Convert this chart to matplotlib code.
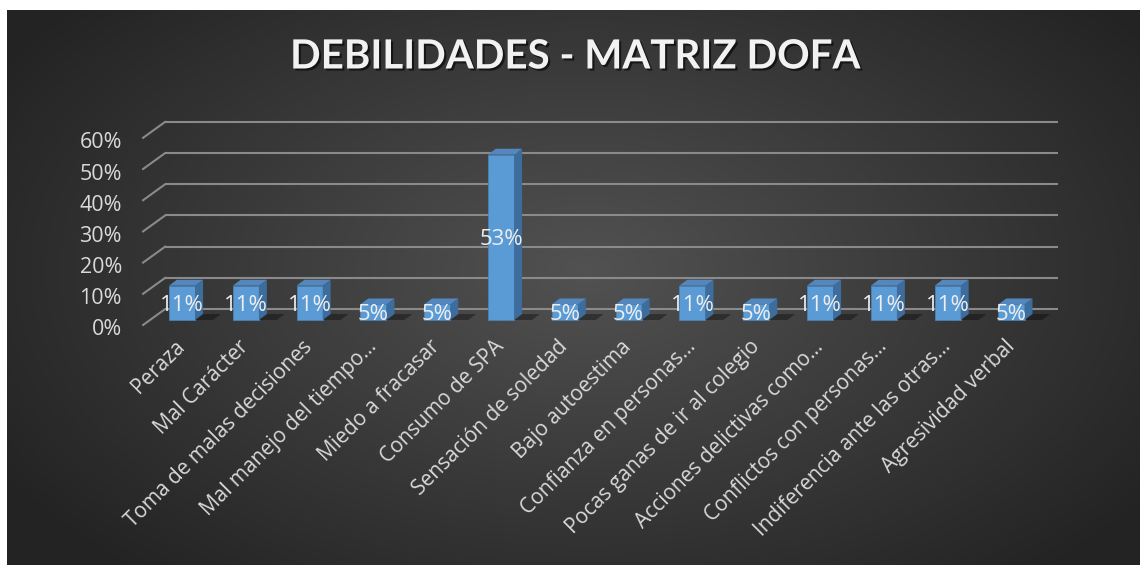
import matplotlib
matplotlib.use("Agg")
import matplotlib.pyplot as plt
import matplotlib.patheffects as pe
from matplotlib.patches import Polygon
import numpy as np

# Datos de la gráfica
categorias = ["Peraza", "Mal Carácter", "Toma de malas decisiones",
              "Mal manejo del tiempo…", "Miedo a fracasar", "Consumo de SPA",
              "Sensación de soledad", "Bajo autoestima", "Confianza en personas…",
              "Pocas ganas de ir al colegio", "Acciones delictivas como…",
              "Conflictos con personas…", "Indiferencia ante las otras…",
              "Agresividad verbal"]
valores = [11, 11, 11, 5, 5, 53, 5, 5, 11, 5, 11, 11, 11, 5]
ticks_y = [0, 10, 20, 30, 40, 50, 60]
titulo = "DEBILIDADES - MATRIZ DOFA"

# Efecto 3D (desplazamientos en unidades de datos)
BAR_W = 0.205
BAR_DX, BAR_DY = 0.125, 1.9
WALL_DX, WALL_DY = 0.235, 3.5
FRONT_DX, FRONT_DY = -0.11, -1.6

W, H = 1140, 568
fig = plt.figure(figsize=(W / 100, H / 100), dpi=100, facecolor="white")

# Fondo con degradado radial
bg = fig.add_axes([7 / W, 3 / H, (W - 7) / W, 555 / H])
yy, xx = np.mgrid[0:555, 0:1133]
r = np.sqrt(((xx - 580) / 680.0) ** 2 + ((yy - 260) / 400.0) ** 2)
shade = 0.32 - 0.18 * np.clip(r, 0, 1)
bg.imshow(np.dstack([shade, shade, shade]), aspect="auto", interpolation="bilinear")
bg.axis("off")

# Ejes principales: x = categoría, y = porcentaje
x0, x1 = -1.0, 14.0
y0, y1 = -8.0, 66.0
ax = fig.add_axes([0.10368, 0.3927, 0.8395, 0.7991 - 0.3927])
ax.set_xlim(x0, x1)
ax.set_ylim(y0, y1)
ax.axis("off")
ax.patch.set_alpha(0)

n = len(categorias)
grid_col = "#8a8a8a"
fuente = ["Open Sans", "DejaVu Sans"]
for g in ticks_y:
    ax.plot([-0.5 + WALL_DX, n - 0.5 + WALL_DX], [g + WALL_DY, g + WALL_DY],
            color=grid_col, lw=1.5, zorder=1, solid_capstyle="butt")
    ax.plot([-0.5 + FRONT_DX, -0.5 + WALL_DX], [g + FRONT_DY, g + WALL_DY],
            color=grid_col, lw=1.5, zorder=1)
    ax.text(-0.5 + FRONT_DX - 0.33, g + FRONT_DY - 1.6, f"{g}%", ha="right", va="center",
            fontsize=15.5, color="#d9d9d9", family=fuente)

for i, v in enumerate(valores):
    l, rr = i - BAR_W, i + BAR_W
    # sombra en el piso
    sh = Polygon([(l, 0), (rr + 0.28, 0), (rr + 0.28 + BAR_DX, BAR_DY),
                  (l + BAR_DX, BAR_DY)], closed=True, facecolor="black",
                 alpha=0.35, lw=0, zorder=2)
    ax.add_patch(sh)
    front = Polygon([(l, 0), (rr, 0), (rr, v), (l, v)], closed=True,
                    facecolor="#5b9bd5", edgecolor="#4a86c0", lw=0.5, zorder=3)
    side = Polygon([(rr, 0), (rr + BAR_DX, BAR_DY), (rr + BAR_DX, v + BAR_DY), (rr, v)],
                   closed=True, facecolor="#3d6d9c", lw=0, zorder=3)
    top = Polygon([(l, v), (rr, v), (rr + BAR_DX, v + BAR_DY), (l + BAR_DX, v + BAR_DY)],
                  closed=True, facecolor="#5487bd", lw=0, zorder=3)
    for p in (front, side, top):
        ax.add_patch(p)
    ax.text(i, v / 2.0 - 0.8, f"{v}%", ha="center", va="center", fontsize=16,
            color="#eeeeee", family=fuente, zorder=5)
    ax.text(i + 0.0, -7.6, categorias[i], rotation=45, rotation_mode="anchor",
            ha="right", va="center", fontsize=15, color="#d9d9d9", family=fuente)

fig.text(0.5045, 1 - 57 / H, titulo, ha="center", va="center", fontsize=29,
         fontweight="bold", family="Lato", color="#f2f2f2",
         path_effects=[pe.withSimplePatchShadow(offset=(1.5, -1.5), shadow_rgbFace="black", alpha=0.6)])

fig.savefig("out.png", dpi=100, facecolor="white")
